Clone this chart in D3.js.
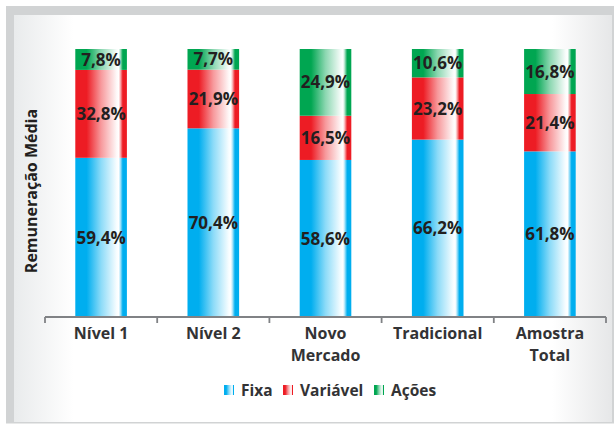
<!DOCTYPE html>
<html lang="pt">
<head>
    <meta charset="UTF-8">
    <title>Remuneração Média</title>
    <script src="https://d3js.org/d3.v7.min.js"></script>
    <style>
        body {
            margin: 0;
            background: #fff;
            font-family: 'Open Sans', sans-serif;
        }
        .value-label {
            font-size: 17px;
            font-weight: 700;
            fill: #231f20;
            text-anchor: middle;
        }
        .cat-label {
            font-size: 16px;
            font-weight: 700;
            fill: #333335;
            text-anchor: middle;
        }
        .legend-label {
            font-size: 15.5px;
            font-weight: 700;
            fill: #333335;
        }
        .axis-title {
            font-size: 16px;
            font-weight: 700;
            fill: #231f20;
            text-anchor: middle;
        }
    </style>
</head>
<body>
    <svg width="614" height="424"></svg>
    <script>
        // Data
        const categories = ["Nível 1", "Nível 2", "Novo Mercado", "Tradicional", "Amostra Total"];
        const categoryLines = [["Nível 1"], ["Nível 2"], ["Novo", "Mercado"], ["Tradicional"], ["Amostra", "Total"]];
        const seriesNames = ["Fixa", "Variável", "Ações"];
        const fixa = [59.4, 70.4, 58.6, 66.2, 61.8];
        const variavel = [32.8, 21.9, 16.5, 23.2, 21.4];
        const acoes = [7.8, 7.7, 24.9, 10.6, 16.8];
        const seriesColors = ["#00aeef", "#ed1c24", "#00a651"];

        const width = 614;
        const height = 424;

        const svg = d3.select("svg")
            .attr("width", width)
            .attr("height", height);

        const defs = svg.append("defs");

        // frame background gradient (grey at the sides)
        const bgGrad = defs.append("linearGradient")
            .attr("id", "bg-grad")
            .attr("x1", "0").attr("x2", "1").attr("y1", "0").attr("y2", "0");
        bgGrad.append("stop").attr("offset", "0").attr("stop-color", "#e9ebec");
        bgGrad.append("stop").attr("offset", "0.1").attr("stop-color", "#ffffff");
        bgGrad.append("stop").attr("offset", "0.9").attr("stop-color", "#ffffff");
        bgGrad.append("stop").attr("offset", "1").attr("stop-color", "#e6e7e8");

        // bar gradients: saturated left, fading to white, thin colour stripe on the right
        seriesColors.forEach((c, i) => {
            const g = defs.append("linearGradient")
                .attr("id", "bar-grad-" + i)
                .attr("x1", "0").attr("x2", "1").attr("y1", "0").attr("y2", "0");
            const light = d3.interpolateRgb(c, "#ffffff");
            g.append("stop").attr("offset", "0").attr("stop-color", c);
            g.append("stop").attr("offset", "0.22").attr("stop-color", c);
            g.append("stop").attr("offset", "0.5").attr("stop-color", light(0.55));
            g.append("stop").attr("offset", "0.8").attr("stop-color", light(0.97));
            g.append("stop").attr("offset", "0.84").attr("stop-color", "#ffffff");
            g.append("stop").attr("offset", "0.87").attr("stop-color", light(0.7));
            g.append("stop").attr("offset", "0.92").attr("stop-color", c);
            g.append("stop").attr("offset", "1").attr("stop-color", c);
        });

        // outer frame
        svg.append("rect")
            .attr("x", 6).attr("y", 6)
            .attr("width", width - 6).attr("height", 417.5)
            .attr("fill", "#d1d3d4");
        svg.append("rect")
            .attr("x", 14).attr("y", 15)
            .attr("width", 598).attr("height", 407)
            .attr("fill", "url(#bg-grad)");

        // scales
        const x = d3.scaleBand()
            .domain(categories)
            .range([45, 606])
            .paddingInner(0)
            .paddingOuter(0);

        const y = d3.scaleLinear()
            .domain([0, 100])
            .range([317, 49]);

        const barWidth = x.bandwidth() * 0.46;

        const table = categories.map((c, i) => ({
            category: c,
            "Fixa": fixa[i],
            "Variável": variavel[i],
            "Ações": acoes[i]
        }));

        const stacked = d3.stack().keys(seriesNames)(table);

        const layers = svg.append("g")
            .selectAll("g")
            .data(stacked)
            .enter().append("g")
            .attr("fill", (d, i) => `url(#bar-grad-${i})`);

        layers.selectAll("rect")
            .data(d => d)
            .enter().append("rect")
            .attr("x", d => x(d.data.category) + (x.bandwidth() - barWidth) / 2)
            .attr("y", d => y(d[1]))
            .attr("width", barWidth)
            .attr("height", d => y(d[0]) - y(d[1]));

        // value labels
        const fmt = v => d3.format(".1f")(v).replace(".", ",") + "%";
        stacked.forEach(layer => {
            svg.append("g")
                .selectAll("text")
                .data(layer)
                .enter().append("text")
                .attr("class", "value-label")
                .attr("x", d => x(d.data.category) + x.bandwidth() / 2)
                .attr("y", d => (y(d[0]) + y(d[1])) / 2)
                .attr("dy", "0.36em")
                .text(d => fmt(d[1] - d[0]));
        });

        // x axis: baseline with ticks at the category boundaries
        const boundaries = categories.map(c => x(c)).concat([x.range()[1]]);
        const axis = svg.append("g")
            .attr("stroke", "#808285")
            .attr("stroke-width", 1.8)
            .attr("fill", "none");
        axis.append("line")
            .attr("x1", x.range()[0]).attr("x2", x.range()[1])
            .attr("y1", y(0)).attr("y2", y(0));
        axis.selectAll(".tick")
            .data(boundaries)
            .enter().append("line")
            .attr("x1", d => d).attr("x2", d => d)
            .attr("y1", y(0)).attr("y2", y(0) + 6);

        // category labels
        const catText = svg.append("g")
            .selectAll("text")
            .data(categoryLines)
            .enter().append("text")
            .attr("class", "cat-label")
            .attr("x", (d, i) => x(categories[i]) + x.bandwidth() / 2)
            .attr("y", 338.5);
        catText.selectAll("tspan")
            .data(d => d)
            .enter().append("tspan")
            .attr("x", function() { return d3.select(this.parentNode).attr("x"); })
            .attr("dy", (d, i) => i === 0 ? 0 : 22.5)
            .text(d => d);

        // y axis title
        svg.append("text")
            .attr("class", "axis-title")
            .attr("transform", "translate(37,191) rotate(-90)")
            .text("Remuneração Média");

        // legend
        const legendX = [224, 283, 374];
        const legend = svg.append("g")
            .selectAll("g")
            .data(seriesNames)
            .enter().append("g")
            .attr("transform", (d, i) => `translate(${legendX[i]},385)`);
        legend.append("rect")
            .attr("width", 10)
            .attr("height", 10)
            .attr("fill", (d, i) => `url(#bar-grad-${i})`);
        legend.append("text")
            .attr("class", "legend-label")
            .attr("x", 17)
            .attr("y", 10.5)
            .text(d => d);
    </script>
</body>
</html>
